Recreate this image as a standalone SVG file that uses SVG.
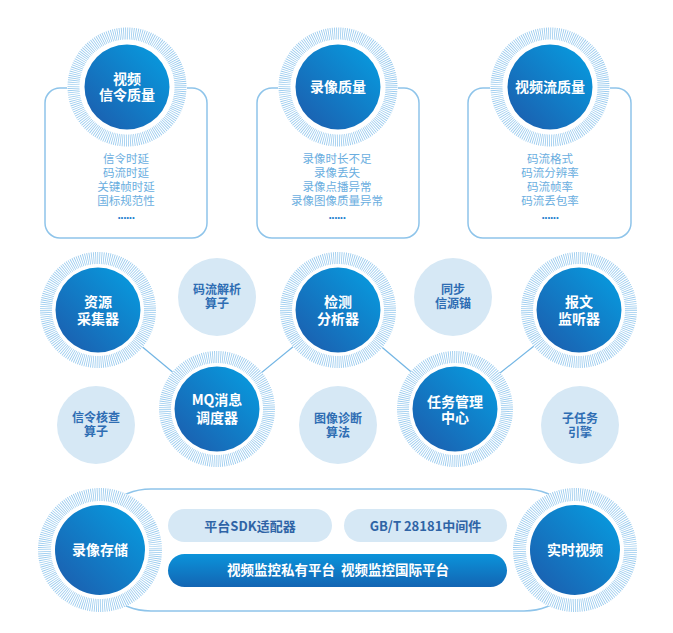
<svg xmlns="http://www.w3.org/2000/svg" width="673" height="633" viewBox="0 0 673 633">
<defs>
<linearGradient id="gd" x1="1" y1="0" x2="0" y2="1">
<stop offset="0" stop-color="#069fe2"/>
<stop offset="1" stop-color="#1d5aab"/>
</linearGradient>
<linearGradient id="gbar" x1="0" y1="0" x2="0" y2="1">
<stop offset="0" stop-color="#0b93da"/>
<stop offset="1" stop-color="#1365b3"/>
</linearGradient>
<style>
.box{fill:#fff;stroke:#8ec4ea;stroke-width:1.5}
.bg{fill:#fff}
.ring{fill:none;stroke:#98caee;stroke-width:12;stroke-dasharray:0.8 1.2}
.ringb{fill:none;stroke:#98caee;stroke-width:13;stroke-dasharray:0.8 1.2}
.dk{fill:url(#gd)}
.lt{fill:#d6e8f5}
.wt{fill:#fff;font-family:"Noto Sans CJK SC","Liberation Sans",sans-serif;font-size:14px;font-weight:bold;text-anchor:middle}
.bt{fill:#2e6db3;font-family:"Noto Sans CJK SC","Liberation Sans",sans-serif;font-size:12px;font-weight:bold;text-anchor:middle}
.lst{fill:#6aaee0;font-family:"Noto Sans CJK SC","Liberation Sans",sans-serif;font-size:11.5px;text-anchor:middle}
.dots{fill:#2a82cf;font-family:"Liberation Sans",sans-serif;font-size:12px;font-weight:bold;text-anchor:middle;letter-spacing:-0.5px}
.conn{stroke:#72b5e4;stroke-width:1.2;fill:none}
.pl{fill:#d6e8f5}
.pt{fill:#2f64a6;font-family:"Noto Sans CJK SC","Liberation Sans",sans-serif;font-size:13px;font-weight:bold;text-anchor:middle}
.pw{fill:#fff;font-family:"Noto Sans CJK SC","Liberation Sans",sans-serif;font-size:13.5px;font-weight:bold;text-anchor:middle}
</style>
</defs>
<rect width="673" height="633" fill="#fff"/>

<g id="box-signal">
<rect class="box" x="45" y="88" width="162" height="150" rx="15"/>
<circle class="bg" cx="127" cy="87" r="60"/>
<circle class="ring" cx="127" cy="87" r="53.5"/>
<circle class="dk" cx="127" cy="87" r="42.5"/>
<text class="wt" x="127" y="84">视频<tspan x="127" dy="16">信令质量</tspan></text>
<text class="lst" x="126" y="163">信令时延<tspan x="126" dy="14">码流时延</tspan><tspan x="126" dy="14">关键帧时延</tspan><tspan x="126" dy="14">国标规范性</tspan></text>
<text class="dots" x="126" y="219">......</text>
</g>

<g id="box-record">
<rect class="box" x="257" y="88" width="162" height="150" rx="15"/>
<circle class="bg" cx="338" cy="87" r="60"/>
<circle class="ring" cx="338" cy="87" r="53.5"/>
<circle class="dk" cx="338" cy="87" r="42.5"/>
<text class="wt" x="338" y="92">录像质量</text>
<text class="lst" x="337" y="163">录像时长不足<tspan x="337" dy="14">录像丢失</tspan><tspan x="337" dy="14">录像点播异常</tspan><tspan x="337" dy="14">录像图像质量异常</tspan></text>
<text class="dots" x="337" y="219">......</text>
</g>

<g id="box-stream">
<rect class="box" x="468" y="88" width="163" height="150" rx="15"/>
<circle class="bg" cx="550" cy="87" r="60"/>
<circle class="ring" cx="550" cy="87" r="53.5"/>
<circle class="dk" cx="550" cy="87" r="42.5"/>
<text class="wt" x="550" y="92">视频流质量</text>
<text class="lst" x="550" y="163">码流格式<tspan x="550" dy="14">码流分辨率</tspan><tspan x="550" dy="14">码流帧率</tspan><tspan x="550" dy="14">码流丢包率</tspan></text>
<text class="dots" x="550" y="219">......</text>
</g>

<g id="connectors">
<line class="conn" x1="98" y1="310" x2="217" y2="409"/>
<line class="conn" x1="217" y1="409" x2="338" y2="310"/>
<line class="conn" x1="338" y1="310" x2="455" y2="409"/>
<line class="conn" x1="455" y1="409" x2="579" y2="310"/>
</g>

<g id="n-codec">
<circle class="lt" cx="217" cy="297" r="39"/>
<text class="bt" x="217" y="294">码流解析<tspan x="217" dy="14">算子</tspan></text>
</g>
<g id="n-sync">
<circle class="lt" cx="453" cy="297" r="39"/>
<text class="bt" x="453" y="294">同步<tspan x="453" dy="14">信源锚</tspan></text>
</g>
<g id="n-sigcheck">
<circle class="lt" cx="96" cy="425" r="39"/>
<text class="bt" x="96" y="422">信令核查<tspan x="96" dy="14">算子</tspan></text>
</g>
<g id="n-imgdiag">
<circle class="lt" cx="338" cy="425" r="39"/>
<text class="bt" x="338" y="423">图像诊断<tspan x="338" dy="14">算法</tspan></text>
</g>
<g id="n-subtask">
<circle class="lt" cx="580" cy="425" r="39"/>
<text class="bt" x="580" y="423">子任务<tspan x="580" dy="14">引擎</tspan></text>
</g>

<g id="n-collector">
<circle class="bg" cx="98" cy="310" r="58"/>
<circle class="ring" cx="98" cy="310" r="52"/>
<circle class="dk" cx="98" cy="310" r="42.5"/>
<text class="wt" x="98" y="307">资源<tspan x="98" dy="17">采集器</tspan></text>
</g>
<g id="n-analyzer">
<circle class="bg" cx="338" cy="310" r="58"/>
<circle class="ring" cx="338" cy="310" r="52"/>
<circle class="dk" cx="338" cy="310" r="42.5"/>
<text class="wt" x="338" y="307">检测<tspan x="338" dy="17">分析器</tspan></text>
</g>
<g id="n-listener">
<circle class="bg" cx="579" cy="310" r="58"/>
<circle class="ring" cx="579" cy="310" r="52"/>
<circle class="dk" cx="579" cy="310" r="42.5"/>
<text class="wt" x="579" y="307">报文<tspan x="579" dy="17">监听器</tspan></text>
</g>
<g id="n-mq">
<circle class="bg" cx="217" cy="409" r="58"/>
<circle class="ring" cx="217" cy="409" r="52"/>
<circle class="dk" cx="217" cy="409" r="42.5"/>
<text class="wt" x="217" y="405">MQ消息<tspan x="217" dy="18">调度器</tspan></text>
</g>
<g id="n-task">
<circle class="bg" cx="455" cy="409" r="58"/>
<circle class="ring" cx="455" cy="409" r="52"/>
<circle class="dk" cx="455" cy="409" r="42.5"/>
<text class="wt" x="455" y="407">任务管理<tspan x="455" dy="16">中心</tspan></text>
</g>

<g id="platform">
<rect class="box" x="90" y="489" width="495" height="122" rx="61"/>
<rect class="pl" x="168" y="509" width="164" height="33" rx="16.5"/>
<text class="pt" x="250" y="531">平台SDK适配器</text>
<rect class="pl" x="344" y="509" width="163" height="33" rx="16.5"/>
<text class="pt" x="425.5" y="531">GB/T 28181中间件</text>
<rect fill="url(#gbar)" x="168" y="554" width="339" height="33" rx="16.5"/>
<text class="pw" x="338" y="575" xml:space="preserve">视频监控私有平台  视频监控国际平台</text>
</g>

<g id="n-storage">
<circle class="bg" cx="100" cy="550" r="62"/>
<circle class="ringb" cx="100" cy="550" r="55.5"/>
<circle class="dk" cx="100" cy="550" r="45"/>
<text class="wt" x="100" y="555">录像存储</text>
</g>
<g id="n-live">
<circle class="bg" cx="575" cy="550" r="62"/>
<circle class="ringb" cx="575" cy="550" r="55.5"/>
<circle class="dk" cx="575" cy="550" r="45"/>
<text class="wt" x="575" y="555">实时视频</text>
</g>
</svg>
